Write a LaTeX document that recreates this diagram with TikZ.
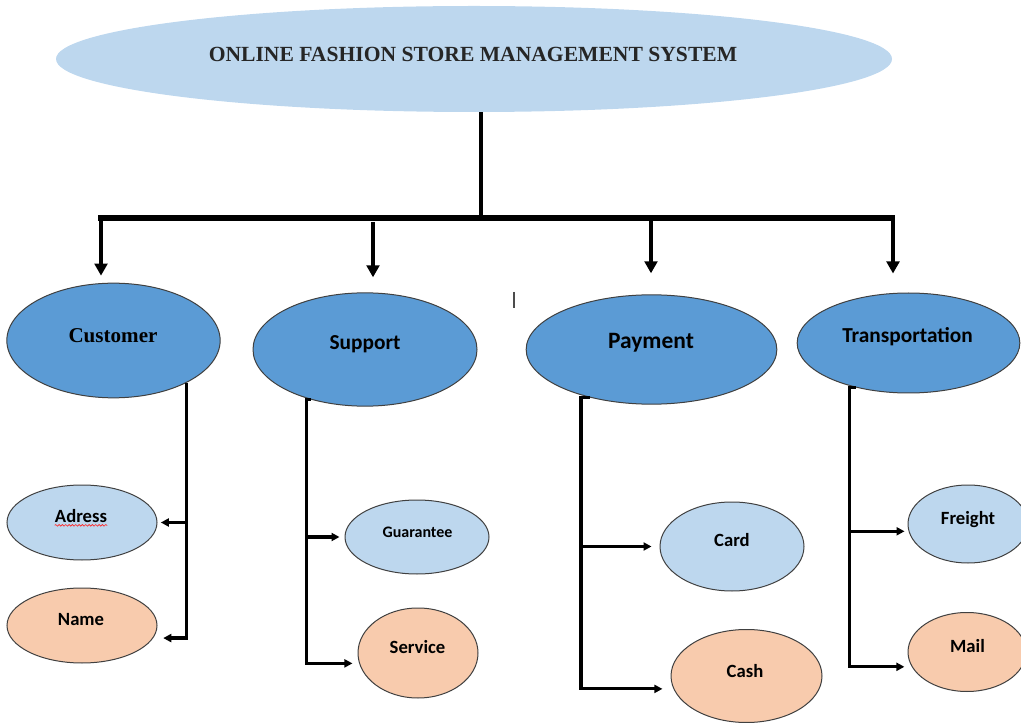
\documentclass[tikz,border=0pt]{standalone}
\usepackage{fontspec}
\setmainfont{Liberation Serif}
\newfontfamily\calfont{Carlito}
\usetikzlibrary{shapes.geometric,arrows.meta,decorations.pathmorphing}
\definecolor{paleblue}{HTML}{BDD7EE}
\definecolor{midblue}{HTML}{5B9BD5}
\definecolor{peach}{HTML}{F8CBAD}
\begin{document}
\begin{tikzpicture}[x=0.75pt,y=-0.75pt,
  oval/.style={ellipse,inner sep=0pt,draw=black!75,line width=0.75pt},
  topic/.style={oval,fill=midblue},
  leafb/.style={oval,fill=paleblue},
  leafp/.style={oval,fill=peach},
  lbl/.style={font=\calfont\bfseries,anchor=base,inner sep=0pt},
  trunk/.style={line width=3pt},
  crossbar/.style={line width=4.5pt},
  drop/.style={line width=3pt,-{Triangle[length=9pt,width=9.5pt]}},
  branch/.style={line width=2.4pt,-{Triangle[length=6pt,width=6pt]}},
]
\useasboundingbox (0,0) rectangle (1021,723);
\clip (0,0) rectangle (1021,723);

% root
\node[ellipse,inner sep=0pt,fill=paleblue,minimum width=627pt,minimum height=79.5pt] (title) at (474,59) {};
\node[anchor=base,inner sep=0pt,font=\fontsize{16.2}{18}\selectfont\bfseries,text=black!85] (titletext) at (473,62) {ONLINE FASHION STORE MANAGEMENT SYSTEM};

% second level
\node[topic,minimum width=160pt,minimum height=86pt] (cust) at (113.5,340.5) {};
\node[topic,minimum width=168pt,minimum height=85pt] (sup) at (365,349.5) {};
\node[topic,minimum width=188pt,minimum height=82pt] (pay) at (651.5,349.5) {};
\node[topic,minimum width=167pt,minimum height=75pt] (trans) at (908.5,343) {};

\node[anchor=base,inner sep=0pt,font=\fontsize{15.8}{18}\selectfont\bfseries] (custtext) at (113,343) {Customer};
\node[lbl,font=\calfont\bfseries\fontsize{16}{18}\selectfont] (suptext) at (365,350) {Support};
\node[lbl,font=\calfont\bfseries\fontsize{17.6}{20}\selectfont] (paytext) at (651,349) {Payment};
\node[lbl,font=\calfont\bfseries\fontsize{16}{18}\selectfont] (transtext) at (907.5,343) {Transportation};

% third level
\node[leafb,minimum width=112.5pt,minimum height=56.25pt] (adress) at (82,522.5) {};
\node[leafp,minimum width=112.5pt,minimum height=56.25pt] (name) at (82,625.5) {};
\node[leafb,minimum width=108pt,minimum height=55.5pt] (guar) at (417,537) {};
\node[leafp,minimum width=90pt,minimum height=67.5pt] (serv) at (418,653) {};
\node[leafb,minimum width=108pt,minimum height=66.75pt] (card) at (732,546.5) {};
\node[leafp,minimum width=113.25pt,minimum height=69.75pt] (cash) at (746.5,676) {};
\node[leafb,minimum width=90pt,minimum height=58.5pt] (freight) at (968,524) {};
\node[leafp,minimum width=88.5pt,minimum height=59.25pt] (mail) at (967,652) {};

\node[lbl,font=\calfont\bfseries\fontsize{14}{16}\selectfont] (adresstext) at (81,522) {Adress};
\node[lbl,font=\calfont\bfseries\fontsize{14}{16}\selectfont] (nametext) at (81,625) {Name};
\node[lbl,font=\calfont\bfseries\fontsize{12}{14}\selectfont] (guartext) at (417.5,537) {Guarantee};
\node[lbl,font=\calfont\bfseries\fontsize{14}{16}\selectfont] (servtext) at (417.5,653) {Service};
\node[lbl,font=\calfont\bfseries\fontsize{14}{16}\selectfont] (cardtext) at (732,546) {Card};
\node[lbl,font=\calfont\bfseries\fontsize{14}{16}\selectfont] (cashtext) at (745,677) {Cash};
\node[lbl,font=\calfont\bfseries\fontsize{14}{16}\selectfont] (freighttext) at (968,524) {Freight};
\node[lbl,font=\calfont\bfseries\fontsize{14}{16}\selectfont] (mailtext) at (967.5,652) {Mail};

% spell-check squiggle under "Adress"
\draw[red!85,line width=0.5pt,decorate,decoration={snake,amplitude=0.6pt,segment length=2.5pt}]
  ([yshift=-2.5pt]adresstext.base west) -- ([yshift=-2.5pt]adresstext.base east);

% stray text cursor
\draw[line width=0.9pt,black!70] (514,292) -- (514,308);

% root to categories
\coordinate (hub) at (481,217);
\coordinate (barL) at (98,218);
\coordinate (barR) at (895,218);
\draw[trunk] (title.south -| hub) -- (hub);
\draw[crossbar] (barL) -- (barR);

\coordinate (t1) at (101,218);
\coordinate (t2) at (373,222);
\coordinate (t3) at (651,218);
\coordinate (t4) at (893,218);
\draw[drop,shorten >=5.25pt] (t1) -- (t1 |- cust.north);
\draw[drop,shorten >=11.25pt] (t2) -- (t2 |- sup.north);
\draw[drop,shorten >=15.75pt] (t3) -- (t3 |- pay.north);
\draw[drop,shorten >=14.25pt] (t4) -- (t4 |- trans.north);

% Customer branch
\draw[branch,shorten >=7.5pt] (cust.-30) |- (name.-10);
\draw[branch,shorten >=2.5pt] (cust.-30 |- adress.east) -- (adress.east);

% Support branch
\coordinate (supspine) at ([xshift=-3.75pt]sup.223);
\draw[branch,shorten >=5pt] (sup.223) -- (supspine) |- (serv.190);
\draw[branch,shorten >=3.75pt] (supspine |- guar.west) -- (guar.west);

% Payment branch
\coordinate (payspine) at ([xshift=-6.75pt]pay.218);
\draw[branch,shorten >=8.25pt] (pay.218) -- (payspine) |- (cash.190);
\draw[branch,shorten >=6pt] (payspine |- card.west) -- (card.west);

% Transportation branch
\coordinate (transspine) at ([xshift=-4.5pt]trans.220);
\draw[branch,shorten >=5.5pt] (trans.220) -- (transspine) |- (mail.195);
\draw[branch,shorten >=3pt] (transspine |- freight.187) -- (freight.187);
\end{tikzpicture}
\end{document}
